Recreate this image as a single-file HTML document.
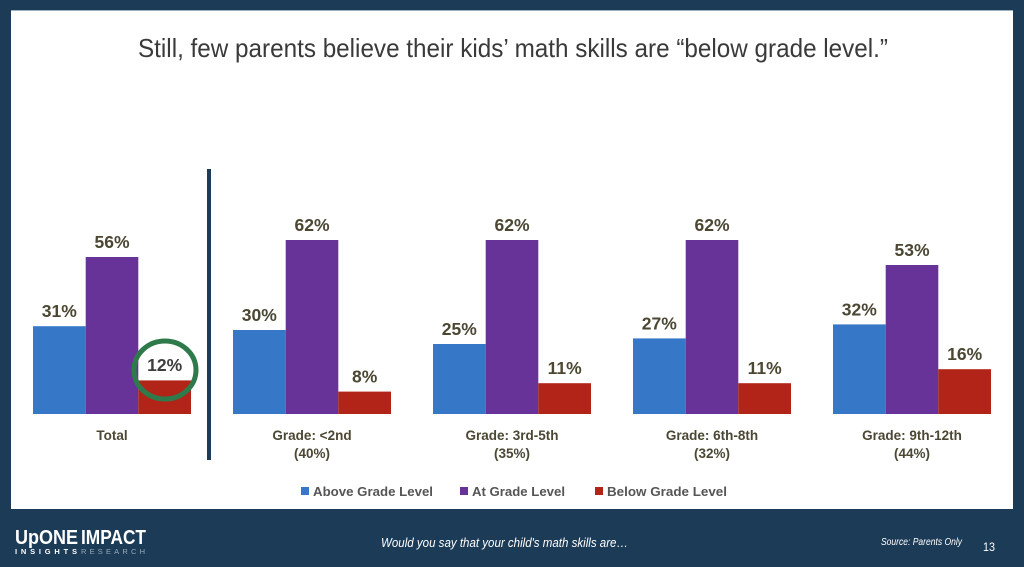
<!DOCTYPE html>
<html><head><meta charset="utf-8"><style>
html,body{margin:0;padding:0;background:#1b3b57;}
svg{display:block;}
</style></head><body>
<svg width="1024" height="567" viewBox="0 0 1024 567" xmlns="http://www.w3.org/2000/svg" font-family="Liberation Sans, sans-serif">
<rect x="0" y="0" width="1024" height="567" fill="#1b3b57"/>
<rect x="11" y="10" width="1002" height="499" fill="#ffffff"/>
<line x1="11" y1="10.5" x2="1013" y2="10.5" stroke="#9fb0c0" stroke-width="1"/>
<text x="138" y="57" font-size="26" fill="#3a3a3a" textLength="750" lengthAdjust="spacingAndGlyphs">Still, few parents believe their kids’ math skills are “below grade level.”</text>

<rect x="207" y="169" width="4" height="291" fill="#1b3b57"/>

<g>
<rect x="33" y="326.2" width="52.7" height="87.8" fill="#3777c8"/>
<rect x="85.7" y="257" width="52.6" height="157" fill="#673399"/>
<rect x="138.3" y="380.4" width="52.7" height="33.6" fill="#b22418"/>
<rect x="233" y="330" width="52.7" height="84" fill="#3777c8"/>
<rect x="285.7" y="240" width="52.6" height="174" fill="#673399"/>
<rect x="338.3" y="391.6" width="52.7" height="22.4" fill="#b22418"/>
<rect x="433" y="344" width="52.7" height="70" fill="#3777c8"/>
<rect x="485.7" y="240" width="52.6" height="174" fill="#673399"/>
<rect x="538.3" y="383.2" width="52.7" height="30.8" fill="#b22418"/>
<rect x="633" y="338.4" width="52.7" height="75.6" fill="#3777c8"/>
<rect x="685.7" y="240" width="52.6" height="174" fill="#673399"/>
<rect x="738.3" y="383.2" width="52.7" height="30.8" fill="#b22418"/>
<rect x="833" y="324.4" width="52.7" height="89.6" fill="#3777c8"/>
<rect x="885.7" y="265" width="52.6" height="149" fill="#673399"/>
<rect x="938.3" y="369.2" width="52.7" height="44.8" fill="#b22418"/>
</g>

<g font-size="17.5" font-weight="bold" fill="#4b4733" text-anchor="middle">
<text x="59.3" y="317">31%</text>
<text x="112" y="248">56%</text>
<text x="164.7" y="371" fill="#3d3d3d">12%</text>
<text x="259.3" y="321">30%</text>
<text x="312" y="231">62%</text>
<text x="364.7" y="382.6">8%</text>
<text x="459.3" y="335">25%</text>
<text x="512" y="231">62%</text>
<text x="564.7" y="374.2">11%</text>
<text x="659.3" y="329.4">27%</text>
<text x="712" y="231">62%</text>
<text x="764.7" y="374.2">11%</text>
<text x="859.3" y="315.4">32%</text>
<text x="912" y="256">53%</text>
<text x="964.7" y="360.2">16%</text>
</g>

<ellipse cx="165" cy="370" rx="31" ry="29" fill="none" stroke="#2f7a4a" stroke-width="5"/>

<g font-size="13.5" font-weight="bold" fill="#4b4733" text-anchor="middle">
<text x="112" y="440">Total</text>
<text x="312" y="440">Grade: &lt;2nd</text>
<text x="312" y="458">(40%)</text>
<text x="512" y="440">Grade: 3rd-5th</text>
<text x="512" y="458">(35%)</text>
<text x="712" y="440">Grade: 6th-8th</text>
<text x="712" y="458">(32%)</text>
<text x="912" y="440">Grade: 9th-12th</text>
<text x="912" y="458">(44%)</text>
</g>

<g font-size="13" font-weight="bold" fill="#555555">
<rect x="301" y="487" width="8" height="8" fill="#3777c8"/>
<text x="313" y="496" textLength="120" lengthAdjust="spacingAndGlyphs">Above Grade Level</text>
<rect x="460" y="487" width="8" height="8" fill="#673399"/>
<text x="472" y="496" textLength="93" lengthAdjust="spacingAndGlyphs">At Grade Level</text>
<rect x="595" y="487" width="8" height="8" fill="#b22418"/>
<text x="607" y="496" textLength="120" lengthAdjust="spacingAndGlyphs">Below Grade Level</text>
</g>

<g fill="#ffffff">
<text x="15" y="544" font-size="20" font-weight="bold" textLength="63" lengthAdjust="spacingAndGlyphs">UpONE</text>
<text x="81" y="544" font-size="20" font-weight="bold" textLength="65" lengthAdjust="spacingAndGlyphs">IMPACT</text>
<text x="15" y="554" font-size="7.5" font-weight="bold" textLength="62" lengthAdjust="spacing">INSIGHTS</text>
<text x="81" y="554" font-size="7.5" fill="#9aa8b8" textLength="64" lengthAdjust="spacing">RESEARCH</text>
<text x="381" y="547" font-size="13" font-style="italic" textLength="247" lengthAdjust="spacingAndGlyphs">Would you say that your child's math skills are…</text>
<text x="881" y="545" font-size="10" font-style="italic" textLength="81" lengthAdjust="spacingAndGlyphs">Source: Parents Only</text>
<text x="983" y="551" font-size="11.5" textLength="12" lengthAdjust="spacingAndGlyphs">13</text>
</g>
</svg>
</body></html>
